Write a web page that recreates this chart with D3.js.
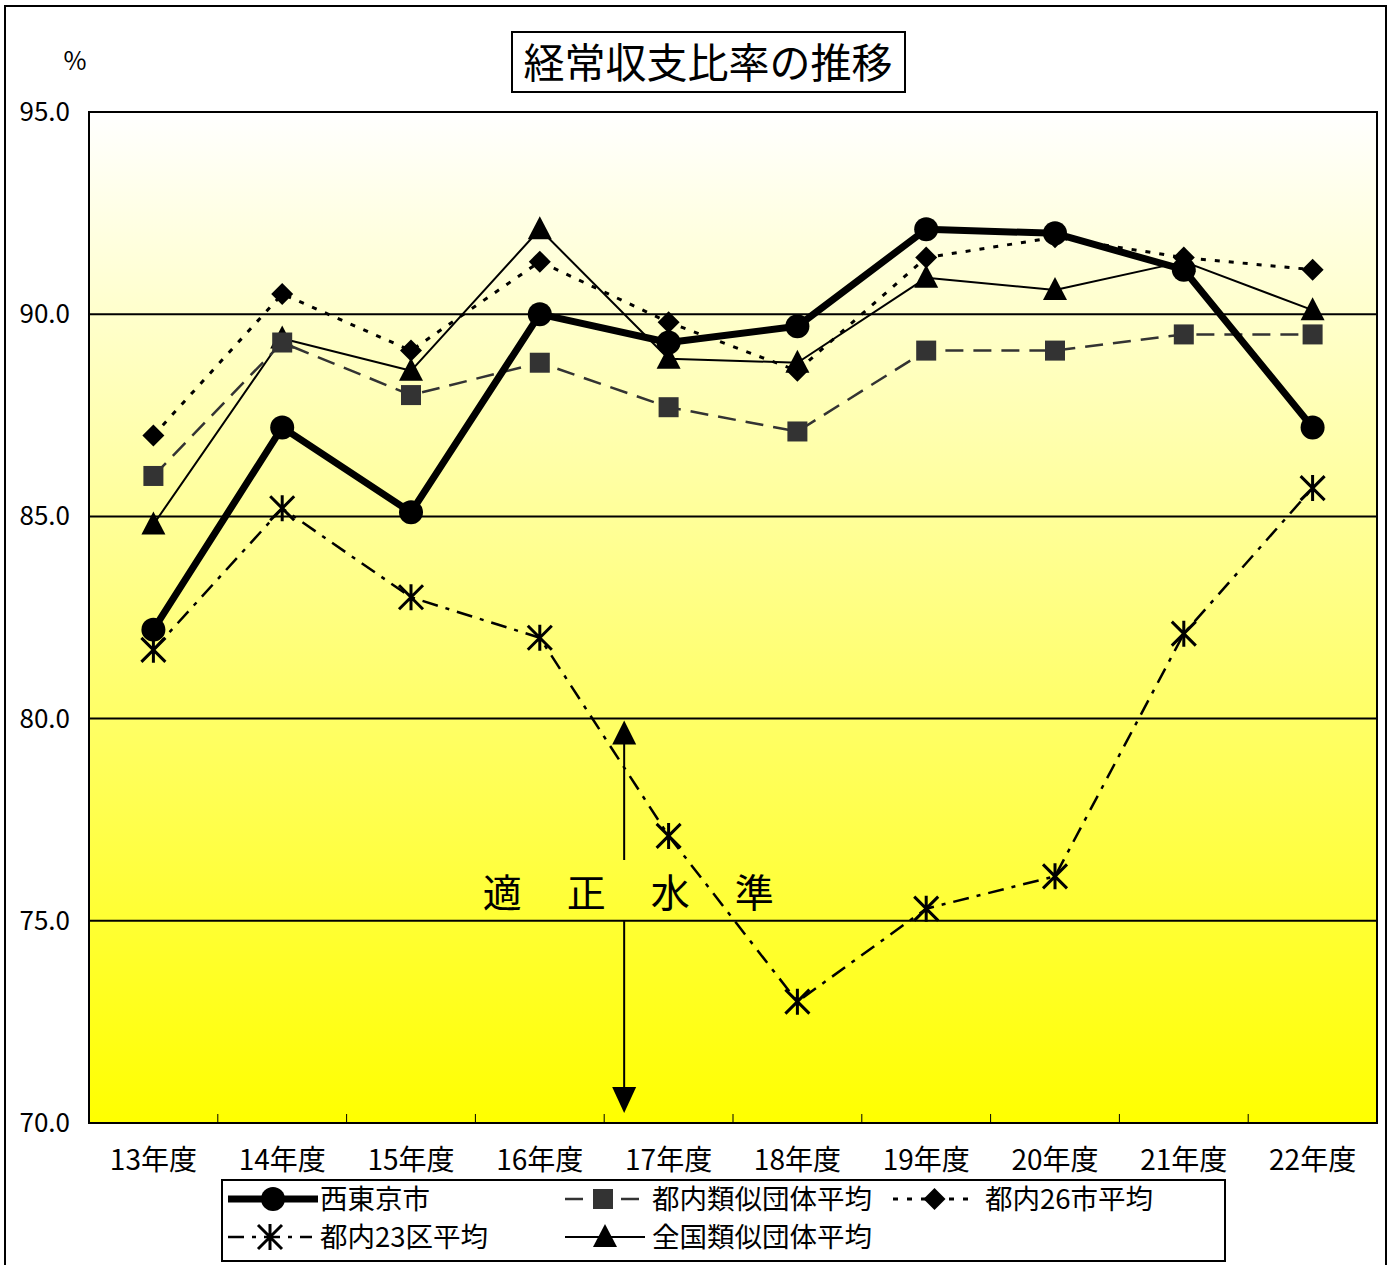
<!DOCTYPE html>
<html>
<head>
<meta charset="utf-8">
<script src="https://cdn.jsdelivr.net/npm/d3@7"></script>
<style>
  body { margin: 0; background: #fff; }
  text { font-family: "Noto Sans CJK JP", "Noto Sans", sans-serif; fill: #000; }
</style>
</head>
<body>
<svg width="1392" height="1265"></svg>
<script>
const years = ["13年度", "14年度", "15年度", "16年度", "17年度", "18年度", "19年度", "20年度", "21年度", "22年度"];
const nishitokyo = [82.2, 87.2, 85.1, 90.0, 89.3, 89.7, 92.1, 92.0, 91.1, 87.2];
const tonaiRuiji = [86.0, 89.3, 88.0, 88.8, 87.7, 87.1, 89.1, 89.1, 89.5, 89.5];
const tonai26 = [87.0, 90.5, 89.1, 91.3, 89.8, 88.6, 91.4, 91.9, 91.4, 91.1];
const tonai23 = [81.7, 85.2, 83.0, 82.0, 77.1, 73.0, 75.3, 76.1, 82.1, 85.7];
const zenkoku = [84.8, 89.4, 88.6, 92.1, 88.9, 88.8, 90.9, 90.6, 91.3, 90.1];
const yTicks = [70, 75, 80, 85, 90, 95];
const gridValues = [75, 80, 85, 90];

const svg = d3.select("svg");
const plotL = 89, plotR = 1377, plotT = 112, plotB = 1123;

const x = d3.scaleBand().domain(years).range([plotL, plotR]).padding(0);
const y = d3.scaleLinear().domain([70, 95]).range([plotB, plotT]);
const cx = d => x(d) + x.bandwidth() / 2;

// outer frame
svg.append("rect").attr("x", 5).attr("y", 6).attr("width", 1381).attr("height", 1270)
    .attr("fill", "#fff").attr("stroke", "#000").attr("stroke-width", 2);

// background gradient
const grad = svg.append("defs").append("linearGradient")
    .attr("id", "bg").attr("x1", 0).attr("y1", 0).attr("x2", 0).attr("y2", 1);
grad.append("stop").attr("offset", "0%").attr("stop-color", "#ffffff");
grad.append("stop").attr("offset", "100%").attr("stop-color", "#ffff00");

svg.append("rect").attr("x", plotL).attr("y", plotT)
    .attr("width", plotR - plotL).attr("height", plotB - plotT)
    .attr("fill", "url(#bg)");

// gridlines
svg.selectAll(".grid").data(gridValues).join("line")
    .attr("x1", plotL).attr("x2", plotR)
    .attr("y1", d => y(d)).attr("y2", d => y(d))
    .attr("stroke", "#000").attr("stroke-width", 2);

// inside ticks at band borders
svg.selectAll(".xtick").data(years.slice(1)).join("line")
    .attr("x1", d => x(d)).attr("x2", d => x(d))
    .attr("y1", plotB).attr("y2", plotB - 9)
    .attr("stroke", "#000").attr("stroke-width", 1);

// y labels
svg.selectAll(".ylab").data(yTicks).join("text")
    .attr("x", 70).attr("y", d => y(d) + 9)
    .attr("text-anchor", "end").attr("font-size", 26)
    .text(d => d.toFixed(1));
svg.append("text").attr("x", 75).attr("y", 70).attr("text-anchor", "middle")
    .attr("font-size", 25).text("%");

// x labels
svg.selectAll(".xlab").data(years).join("text")
    .attr("x", d => cx(d)).attr("y", 1170)
    .attr("text-anchor", "middle").attr("font-size", 28)
    .text(d => d);

// annotation arrow (適正水準)
const ax = x("16年度") + x.bandwidth() * 1.155;
const ann = svg.append("g");
ann.append("line").attr("x1", ax).attr("x2", ax).attr("y1", y(80) + 24).attr("y2", 860)
    .attr("stroke", "#000").attr("stroke-width", 2);
ann.append("path")
    .attr("d", `M${ax},${y(80) + 2}L${ax - 12},${y(80) + 26}L${ax + 12},${y(80) + 26}Z`)
    .attr("fill", "#000");
ann.append("line").attr("x1", ax).attr("x2", ax).attr("y1", y(75)).attr("y2", y(70) - 34)
    .attr("stroke", "#000").attr("stroke-width", 2);
ann.append("path")
    .attr("d", `M${ax},${y(70) - 10}L${ax - 12},${y(70) - 36}L${ax + 12},${y(70) - 36}Z`)
    .attr("fill", "#000");
["適", "正", "水", "準"].forEach((c, i) => {
    ann.append("text").attr("x", ax - 122 + i * 84).attr("y", 907)
        .attr("text-anchor", "middle").attr("font-size", 39).text(c);
});

// marker shapes
const markers = {
    circle: (g, px, py) => g.append("circle").attr("cx", px).attr("cy", py).attr("r", 12).attr("fill", "#000"),
    square: (g, px, py) => g.append("rect").attr("x", px - 10).attr("y", py - 10)
        .attr("width", 20).attr("height", 20).attr("fill", "#333"),
    diamond: (g, px, py) => g.append("path")
        .attr("d", `M${px},${py - 11}L${px + 11},${py}L${px},${py + 11}L${px - 11},${py}Z`).attr("fill", "#000"),
    triangle: (g, px, py) => g.append("path")
        .attr("d", `M${px},${py - 13}L${px + 12},${py + 10}L${px - 12},${py + 10}Z`).attr("fill", "#000"),
    star: (g, px, py) => g.append("path")
        .attr("d", `M${px},${py - 13}L${px},${py + 13}M${px - 12},${py - 12}L${px + 12},${py + 12}M${px - 12},${py + 12}L${px + 12},${py - 12}`)
        .attr("stroke", "#000").attr("stroke-width", 3).attr("fill", "none")
};

const series = [
    {name: "都内23区平均", values: tonai23, color: "#000", width: 2.5, dash: "16,8,4,8", marker: "star"},
    {name: "全国類似団体平均", values: zenkoku, color: "#000", width: 2, dash: null, marker: "triangle"},
    {name: "都内26市平均", values: tonai26, color: "#000", width: 3, dash: "5,9", marker: "diamond"},
    {name: "都内類似団体平均", values: tonaiRuiji, color: "#333", width: 2.5, dash: "18,10", marker: "square"},
    {name: "西東京市", values: nishitokyo, color: "#000", width: 7, dash: null, marker: "circle"}
];

const line = d3.line().x(d => cx(d.year)).y(d => y(d.v));

series.forEach(s => {
    const pts = years.map((yr, i) => ({year: yr, v: s.values[i]}));
    const g = svg.append("g");
    g.append("path").attr("d", line(pts))
        .attr("fill", "none").attr("stroke", s.color).attr("stroke-width", s.width)
        .attr("stroke-linejoin", "round")
        .attr("stroke-dasharray", s.dash);
    pts.forEach(p => markers[s.marker](g, cx(p.year), y(p.v)));
});

// plot border
svg.append("rect").attr("x", plotL).attr("y", plotT)
    .attr("width", plotR - plotL).attr("height", plotB - plotT)
    .attr("fill", "none").attr("stroke", "#000").attr("stroke-width", 2);

// title
svg.append("rect").attr("x", 512).attr("y", 32).attr("width", 393).attr("height", 60)
    .attr("fill", "#fff").attr("stroke", "#000").attr("stroke-width", 2);
svg.append("text").attr("x", 708).attr("y", 78).attr("text-anchor", "middle")
    .attr("font-size", 41).text("経常収支比率の推移");

// legend
svg.append("rect").attr("x", 222).attr("y", 1180).attr("width", 1003).attr("height", 81)
    .attr("fill", "#fff").attr("stroke", "#000").attr("stroke-width", 2);

const legendPos = {
    "西東京市": {x0: 228, x1: 318, row: 0, tx: 320},
    "都内類似団体平均": {x0: 565, x1: 641, row: 0, tx: 652},
    "都内26市平均": {x0: 893, x1: 976, row: 0, tx: 985},
    "都内23区平均": {x0: 228, x1: 312, row: 1, tx: 320},
    "全国類似団体平均": {x0: 565, x1: 645, row: 1, tx: 652}
};
series.forEach(s => {
    const p = legendPos[s.name];
    const ly = 1199 + p.row * 38;
    const g = svg.append("g");
    g.append("line").attr("x1", p.x0).attr("x2", p.x1).attr("y1", ly).attr("y2", ly)
        .attr("stroke", s.color).attr("stroke-width", s.width)
        .attr("stroke-dasharray", s.dash);
    markers[s.marker](g, (p.x0 + p.x1) / 2, ly);
    g.append("text").attr("x", p.tx).attr("y", ly + 10).attr("font-size", 27.5).text(s.name);
});
</script>
</body>
</html>
